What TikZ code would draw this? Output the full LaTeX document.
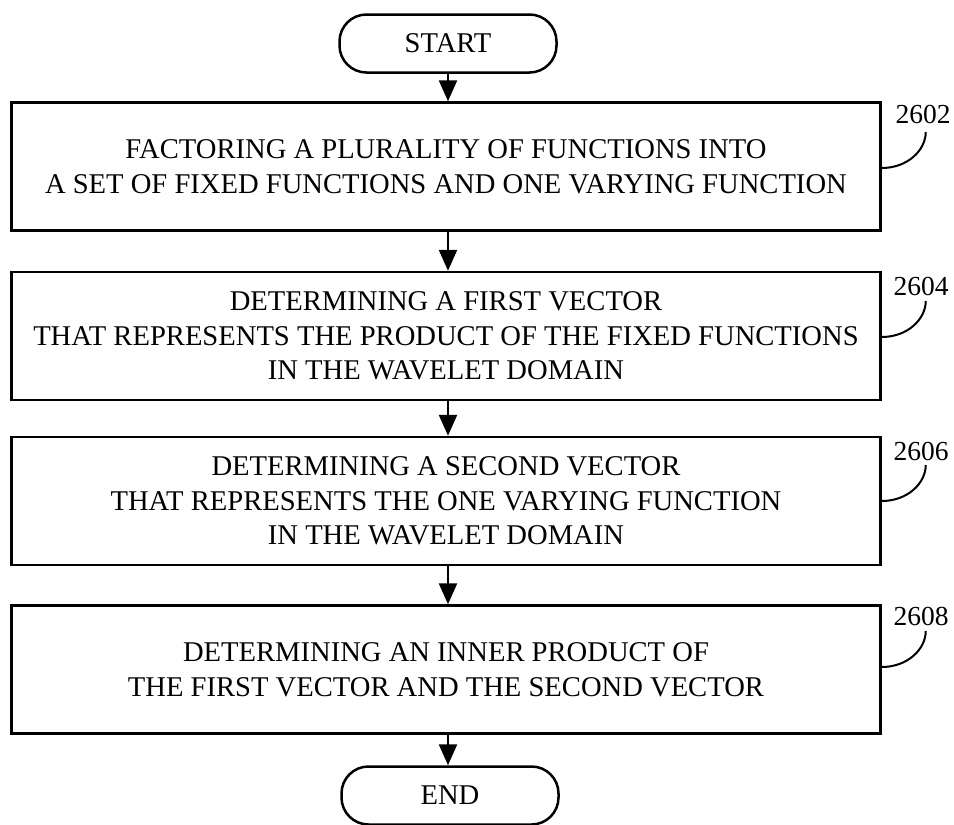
\documentclass[tikz,border=0pt]{standalone}
\usepackage{fontspec}
\setmainfont{Liberation Serif}
\usetikzlibrary{arrows.meta,calc}
\begin{document}
\begin{tikzpicture}[x=1pt,y=-1pt,
  box/.style={draw, line width=2.5pt, minimum width=869pt, minimum height=128pt, inner sep=0pt, align=center, font=\fontsize{28.6}{34.5}\selectfont},
  term/.style={draw, line width=2.5pt, rounded corners=27pt, minimum width=217pt, minimum height=58pt, inner sep=0pt, font=\fontsize{28.6}{34}\selectfont},
  flow/.style={line width=2.5pt, -{Triangle[length=21pt,width=18pt]}},
  lead/.style={line width=2pt},
  reflabel/.style={font=\fontsize{27.5}{30}\selectfont, inner sep=0pt}]
\useasboundingbox (0,0) rectangle (954,825);
\node[term] (start) at (448,43.5) {START};
\node[box] (b1) at (446,166.5) {FACTORING A PLURALITY OF FUNCTIONS INTO\\A SET OF FIXED FUNCTIONS AND ONE VARYING FUNCTION};
\node[box] (b2) at (446,336) {DETERMINING A FIRST VECTOR\\THAT REPRESENTS THE PRODUCT OF THE FIXED FUNCTIONS\\IN THE WAVELET DOMAIN};
\node[box] (b3) at (446,501) {DETERMINING A SECOND VECTOR\\THAT REPRESENTS THE ONE VARYING FUNCTION\\IN THE WAVELET DOMAIN};
\node[box] (b4) at (446,669.5) {DETERMINING AN INNER PRODUCT OF\\THE FIRST VECTOR AND THE SECOND VECTOR};
\node[term] (end) at (450,795.5) {END};
\draw[flow] (start.south) -- (start.south |- b1.north);
\draw[flow] (b1.south -| start.south) -- (start.south |- b2.north);
\draw[flow] (b2.south -| start.south) -- (start.south |- b3.north);
\draw[flow] (b3.south -| start.south) -- (start.south |- b4.north);
\draw[flow] (b4.south -| start.south) -- (start.south |- end.north);
\node[reflabel] (r1) at (923,114) {2602};
\node[reflabel] (r2) at (921,286) {2604};
\node[reflabel] (r3) at (921,451) {2606};
\node[reflabel] (r4) at (921,616) {2608};
\coordinate (e1) at ($(b1.east)+(0,1.5)$);
\coordinate (e2) at ($(b2.east)+(0,1)$);
\coordinate (e3) at (b3.east);
\coordinate (e4) at ($(b4.east)+(0,-2.5)$);
\foreach \i in {1,2,3,4}{
  \coordinate (t\i) at ($(e\i)+(44,-36)$);
  \draw[lead] (e\i) .. controls ($(e\i)+(26,0)$) and ($(t\i)+(0,18)$) .. (t\i);
}
\end{tikzpicture}
\end{document}
